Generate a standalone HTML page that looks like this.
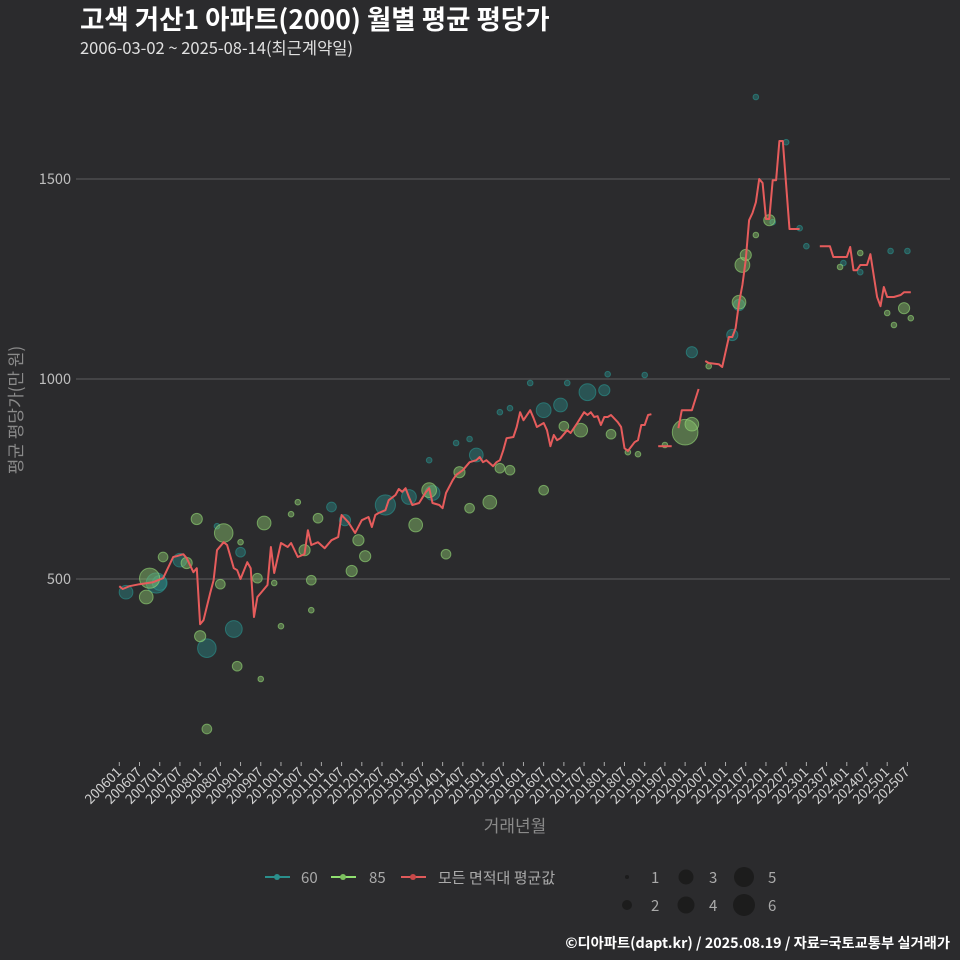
<!DOCTYPE html>
<html><head><meta charset="utf-8">
<style>
html,body{margin:0;padding:0;background:#2b2b2d;}
svg{display:block;font-family:"Noto Sans CJK KR","Liberation Sans",sans-serif;}
</style></head>
<body>
<svg id="chart" width="960" height="960" viewBox="0 0 960 960" xmlns="http://www.w3.org/2000/svg">
<rect width="960" height="960" fill="#2b2b2d"/>
<text x="80" y="29" font-size="26.5" font-weight="bold" fill="#ffffff">고색 거산1 아파트(2000) 월별 평균 평당가</text>
<text x="80" y="54" font-size="16.5" fill="#e0e0e0">2006-03-02 ~ 2025-08-14(최근계약일)</text>
<g id="grid"></g>
<g id="yticks"></g>
<g id="xticks"></g>
<g id="bubbles"></g>
<g id="line"></g>
<text transform="translate(22,410) rotate(-90)" text-anchor="middle" font-size="17" fill="#8a8a8a">평균 평당가(만 원)</text>
<text x="515" y="832" text-anchor="middle" font-size="17" fill="#8a8a8a">거래년월</text>
<g>
  <g><line x1="265" y1="877" x2="290" y2="877" stroke="#2a8f8c" stroke-width="2"/><circle cx="277" cy="877" r="3" fill="#2a8f8c"/><text x="301" y="883" font-size="15" fill="#aaa">60</text></g>
  <g><line x1="331" y1="877" x2="356" y2="877" stroke="#90e070" stroke-width="2"/><circle cx="343" cy="877" r="3" fill="#7cbf5e"/><text x="369" y="883" font-size="15" fill="#aaa">85</text></g>
  <g><line x1="401" y1="877" x2="426" y2="877" stroke="#e05a5a" stroke-width="2"/><circle cx="413" cy="877" r="3" fill="#c84848"/><text x="438" y="883" font-size="15" fill="#aaa">모든 면적대 평균값</text></g>
  <g fill="#1c1c1c">
    <circle cx="627" cy="877" r="2"/><text x="651" y="883" font-size="15" fill="#aaa">1</text>
    <circle cx="627" cy="905" r="5"/><text x="651" y="911" font-size="15" fill="#aaa">2</text>
    <circle cx="686" cy="877" r="7.5"/><text x="709" y="883" font-size="15" fill="#aaa">3</text>
    <circle cx="686" cy="905" r="8.5"/><text x="709" y="911" font-size="15" fill="#aaa">4</text>
    <circle cx="744" cy="877" r="10"/><text x="768" y="883" font-size="15" fill="#aaa">5</text>
    <circle cx="744" cy="905" r="11"/><text x="768" y="911" font-size="15" fill="#aaa">6</text>
  </g>
</g>
<text x="950" y="948" text-anchor="end" font-size="14.3" font-weight="bold" fill="#ffffff">©디아파트(dapt.kr) / 2025.08.19 / 자료=국토교통부 실거래가</text>
</svg>
<script>
// month index = months since 2006-01
const yTicks = [500, 1000, 1500];
const xTickLabels = ["200601","200607","200701","200707","200801","200807","200901","200907","201001","201007","201101","201107","201201","201207","201301","201307","201401","201407","201501","201507","201601","201607","201701","201707","201801","201807","201901","201907","202001","202007","202101","202107","202201","202207","202301","202307","202401","202407","202501","202507"];
const lineMonths = [0,1,3,6,10,13,16,17,19,20,22,23,24,25,27,28,29,31,32,34,35,36,38,39,40,41,42,44,45,46,48,50,51,53,55,56,57,59,61,63,65,66,68,70,72,74,75,76,77,79,80,82,83,84,85,86,87,89,91,92,93,95,96,97,99,100,102,104,106,107,108,109,111,112,113,114,115,117,118,119,120,122,123,124,126,127,128,129,130,131,133,134,136,138,139,140,141,142,143,144,145,146,148,149,150,151,153,154,155,156,157,158,159,160,164,165,166,167,170,172,173,174,175,178,179,181,182,183,184,185,186,187,188,189,190,191,192,193,194,195,196,197,199,202,203,208,211,212,216,217,218,219,220,222,223,225,226,227,228,230,232,233,235];
const lineValues = [482,475,482,487,492,502,555,557,562,552,517,527,387,397,465,497,572,592,585,527,522,500,542,527,405,455,465,485,580,515,590,580,590,555,562,622,585,592,577,597,605,660,642,615,647,655,630,660,665,672,697,710,725,718,727,705,685,690,717,727,690,685,677,715,747,760,772,792,797,805,792,797,782,792,797,822,852,855,880,917,897,922,902,880,890,872,832,860,847,852,872,865,890,917,910,917,905,907,885,905,905,910,892,880,827,820,842,847,885,885,910,912,null,832,832,null,877,922,922,975,null,1045,1040,1037,1030,1105,1105,1127,1190,1235,1297,1397,1415,1442,1500,1490,1400,1400,1497,1497,1595,1595,1375,1375,null,1332,1332,1305,1305,1330,1272,1272,1285,1285,1312,1205,1182,1230,1205,1205,1210,1217,1217];
const teal60Months = [2,11,12,26,34,18,29,36,63,67,79,86,93,106,126,131,139,144,170,182,184,194,189,198,113,116,122,133,145,156,92,202,215,220,229,234,204,100,104];
const teal60Values = [467,490,490,327,375,547,632,567,680,647,685,705,715,810,922,935,967,972,1067,1110,1185,1392,1705,1592,917,927,990,990,1012,1010,797,1377,1290,1267,1320,1320,1332,840,850];
const teal60Counts = [6,13,7,11,9,6,1,3,3,4,13,7,7,6,7,6,9,4,4,4,4,1,1,1,1,1,1,1,1,1,1,1,1,1,1,1,1,1,1];
const green85Months = [8,13,9,20,30,31,23,26,24,35,41,43,42,48,55,57,59,69,71,73,88,92,97,101,104,110,113,116,126,132,137,146,151,154,162,168,170,175,184,185,186,193,189,214,220,228,230,233,235,36,51,53,57,46];
const green85Values = [455,555,502,540,487,615,650,125,357,282,502,640,250,382,572,497,652,520,597,557,635,722,562,767,677,692,777,772,722,882,872,862,817,812,835,867,887,1032,1192,1285,1310,1397,1360,1280,1315,1165,1135,1177,1152,592,662,692,422,490];
const green85Counts = [6,3,13,4,3,11,4,3,4,3,3,6,1,1,4,3,3,4,4,4,6,7,3,4,3,6,3,3,3,3,6,3,1,1,1,21,6,1,6,7,4,4,1,1,1,1,1,4,1,1,1,1,1,1];

const NS = "http://www.w3.org/2000/svg";
const xScale = m => 119.3 + m * 3.368;
const yScale = v => 579 - (v - 500) * 0.4;
const rScale = n => 2.8 * Math.sqrt(n);
function mk(tag, attrs, parent){
  const el = document.createElementNS(NS, tag);
  for (const k in attrs) el.setAttribute(k, attrs[k]);
  parent.appendChild(el);
  return el;
}
const grid = document.getElementById('grid');
const yt = document.getElementById('yticks');
yTicks.forEach(v => {
  const g = mk('line', {x1:76, x2:950, y1:yScale(v), y2:yScale(v), stroke:'#5e5e5e', 'stroke-width':1}, grid);
  
  
  const t = mk('text', {x:71, y:yScale(v)+5, 'text-anchor':'end', 'font-size':14.5, fill:'#bdbdbd'}, yt);
  t.textContent = v;
  
  
});
const xt = document.getElementById('xticks');
xTickLabels.forEach((lab, i) => {
  const x = xScale(i * 6);
  const tk = mk('line', {x1:x, x2:x, y1:762, y2:766, stroke:'#aaa', 'stroke-width':1}, xt);
  
  
  const t = mk('text', {x:x+3, y:773, 'text-anchor':'end', 'font-size':13.5, fill:'#d0d0d0', transform:`rotate(-45 ${x+3} 773)`}, xt);
  t.textContent = lab;
  
  
});
const bub = document.getElementById('bubbles');
function drawBubbles(ms, vs, cs, fill, stroke, name){
  ms.forEach((m, i) => {
    const c = mk('circle', {cx:xScale(m), cy:yScale(vs[i]), r:rScale(cs[i]), fill:fill, stroke:stroke, 'stroke-width':1}, bub);
    
    
  });
}
drawBubbles(teal60Months, teal60Values, teal60Counts, 'rgba(42,135,132,0.45)', 'rgba(42,150,145,0.6)', 'bubble-60');
drawBubbles(green85Months, green85Values, green85Counts, 'rgba(140,200,110,0.45)', 'rgba(150,220,120,0.6)', 'bubble-85');
const lg = document.getElementById('line');
let seg = [];
function flush(){
  if (seg.length > 1) {
    const p = mk('polyline', {points: seg.join(' '), fill:'none', stroke:'#e65c5c', 'stroke-width':2, 'stroke-linejoin':'round'}, lg);
    
    
  }
  seg = [];
}
lineMonths.forEach((m, i) => {
  const v = lineValues[i];
  if (v === null) { flush(); return; }
  seg.push(xScale(m).toFixed(1) + ',' + yScale(v).toFixed(1));
});
flush();
</script>
</body></html>
